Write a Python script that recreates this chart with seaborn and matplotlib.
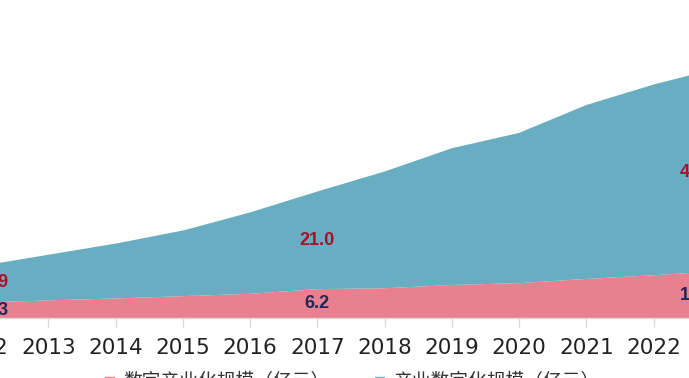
import matplotlib
matplotlib.use('Agg')
import matplotlib.pyplot as plt
import numpy as np
import pandas as pd
import seaborn as sns
from matplotlib.patches import Patch

years = [2012, 2013, 2014, 2015, 2016, 2017, 2018, 2019, 2020, 2021, 2022, 2023]
digital_industry = [3.3, 3.8, 4.2, 4.7, 5.2, 6.2, 6.4, 7.1, 7.5, 8.4, 9.2, 10.1]
industry_digital = [7.9, 9.8, 11.8, 14.1, 17.5, 21.0, 25.1, 29.4, 32.3, 37.4, 41.0, 43.8]
series_names = ['数字产业化规模（亿元）', '产业数字化规模（亿元）']
label_years = [2012, 2017, 2023]

PINK = '#e8808f'
TEAL = '#68adc2'
RED = '#aa1028'
NAVY = '#1f2858'

df = pd.DataFrame({'year': years, 'di': digital_industry, 'id': industry_digital})
df['total'] = df['di'] + df['id']

sns.set_theme(style='white')
plt.rcParams['font.family'] = ['Noto Sans CJK SC', 'DejaVu Sans']

W, H = 689, 378
px_per_year = 67.25
x0_pix = -19  # pixel position of 2012
# the chart is a crop of a wider one: let the axes run past the figure edges
left_pix, right_pix = -45, 735
fig = plt.figure(figsize=(W / 100, H / 100), dpi=100)
ax = fig.add_axes([left_pix / W, 60 / H, (right_pix - left_pix) / W, 318 / H])

ax.fill_between(df['year'], 0, df['di'], color=PINK, linewidth=0)
ax.fill_between(df['year'], df['di'], df['total'], color=TEAL, linewidth=0)

# labels for first, middle and last year (edge ones pulled inwards)
shift = {2012: 0.22, 2017: 0.0, 2023: -0.35}
for yr in label_years:
    row = df[df['year'] == yr].iloc[0]
    x = yr + shift[yr]
    di = np.interp(x, df['year'], df['di'])
    tot = np.interp(x, df['year'], df['total'])
    ax.text(x, di / 2, f"{row['di']:.1f}", ha='center', va='center', color=NAVY,
            fontsize=13, fontweight='bold', family='Liberation Sans')
    ax.text(x, (di + tot) / 2, f"{row['id']:.1f}", ha='center', va='center', color=RED,
            fontsize=13, fontweight='bold', family='Liberation Sans')

ax.set_xticks(years)
ax.set_xticklabels([str(y) for y in years], family='Liberation Sans Narrow', fontsize=15.5, color='#222222')
ax.set_yticks([])
ax.set_xlim(2012 + (left_pix - x0_pix) / px_per_year, 2012 + (right_pix - x0_pix) / px_per_year)
ax.set_ylim(0, 318 / 4.65)
ax.tick_params(axis='x', bottom=True, length=6.5, width=1, color='#d9d9d9', pad=8)
sns.despine(ax=ax, left=True)
ax.spines['bottom'].set_color('#d9d9d9')
ax.spines['bottom'].set_linewidth(1)
ax.set_facecolor('white')

handles = [Patch(color=PINK), Patch(color=TEAL)]
leg = ax.legend(handles, series_names, loc='upper center',
                bbox_to_anchor=((352 - left_pix) / (right_pix - left_pix), -0.145),
                ncol=2, frameon=False, fontsize=13.5, handlelength=0.5, handleheight=0.2,
                handletextpad=0.5, columnspacing=2.4, borderaxespad=0, labelcolor='#333333')

fig.savefig('out.png', dpi=100, facecolor='white')
